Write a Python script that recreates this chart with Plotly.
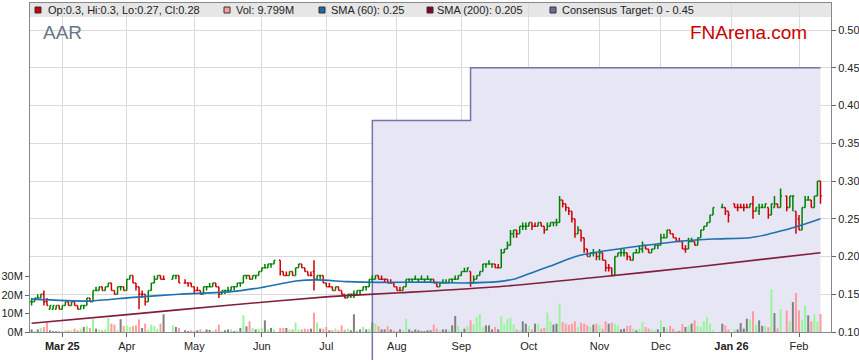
import numpy as np
import pandas as pd
import plotly.graph_objects as go

# ---------------- data ----------------
START = "2025-02-17"
END = "2026-02-11"
holidays = ["2025-04-18", "2025-04-21", "2025-04-25", "2025-06-09",
            "2025-12-25", "2025-12-26", "2026-01-01", "2026-01-26"]
dates = [d for d in pd.bdate_range(START, END).strftime("%Y-%m-%d") if d not in holidays]

open_ = [
    0.140,0.140,0.145,0.145,0.150,0.140,0.130,0.130,0.130,0.135,
    0.130,0.135,0.140,0.135,0.140,0.135,0.130,0.135,0.135,0.145,
    0.140,0.155,0.155,0.160,0.155,0.160,0.165,0.155,0.150,0.160,
    0.160,0.155,0.170,0.175,0.165,0.160,0.150,0.150,0.140,0.155,
    0.165,0.170,0.175,0.170,0.170,0.175,0.175,0.165,0.165,0.165,
    0.160,0.155,0.155,0.150,0.160,0.160,0.160,0.165,0.160,0.150,
    0.155,0.155,0.155,0.160,0.160,0.165,0.165,0.175,0.175,0.170,
    0.175,0.175,0.180,0.185,0.185,0.190,0.190,0.195,0.180,0.175,
    0.175,0.180,0.175,0.185,0.190,0.185,0.180,0.175,0.180,0.170,
    0.175,0.175,0.165,0.160,0.160,0.155,0.160,0.155,0.150,0.145,
    0.150,0.150,0.150,0.155,0.155,0.160,0.160,0.170,0.170,0.175,
    0.170,0.170,0.170,0.165,0.165,0.160,0.155,0.155,0.160,0.170,
    0.170,0.170,0.170,0.170,0.170,0.170,0.170,0.170,0.165,0.160,
    0.165,0.165,0.165,0.170,0.170,0.170,0.175,0.180,0.180,0.180,
    0.165,0.170,0.175,0.180,0.190,0.190,0.190,0.190,0.185,0.185,
    0.205,0.210,0.215,0.230,0.235,0.230,0.240,0.240,0.240,0.245,
    0.240,0.240,0.245,0.240,0.235,0.240,0.245,0.245,0.245,0.275,
    0.270,0.265,0.260,0.250,0.230,0.235,0.225,0.210,0.200,0.205,
    0.205,0.200,0.205,0.195,0.185,0.185,0.175,0.200,0.205,0.205,
    0.205,0.200,0.195,0.205,0.205,0.210,0.215,0.210,0.205,0.210,
    0.215,0.215,0.225,0.225,0.235,0.230,0.225,0.220,0.220,0.210,
    0.210,0.220,0.220,0.215,0.225,0.235,0.240,0.245,0.255,0.265,
    0.265,0.260,0.270,0.265,0.265,0.265,0.265,0.265,0.270,0.260,
    0.260,0.265,0.265,0.265,0.255,0.265,0.270,0.265,0.280,0.265,
    0.280,0.260,0.250,0.235,0.265,0.275,0.275,0.265,0.280,0.300,
]
high = [
    0.145,0.145,0.150,0.150,0.155,0.145,0.135,0.135,0.135,0.135,
    0.135,0.140,0.140,0.140,0.140,0.135,0.135,0.135,0.145,0.145,
    0.155,0.160,0.160,0.160,0.160,0.165,0.165,0.155,0.160,0.160,
    0.160,0.170,0.175,0.175,0.165,0.160,0.155,0.150,0.155,0.165,
    0.175,0.175,0.175,0.175,0.175,0.175,0.175,0.170,0.165,0.165,
    0.160,0.160,0.155,0.160,0.160,0.165,0.165,0.165,0.160,0.155,
    0.155,0.160,0.160,0.160,0.165,0.165,0.175,0.175,0.175,0.175,
    0.175,0.180,0.185,0.190,0.190,0.190,0.195,0.195,0.180,0.180,
    0.180,0.180,0.185,0.190,0.190,0.185,0.180,0.180,0.195,0.175,
    0.175,0.175,0.165,0.165,0.160,0.160,0.160,0.155,0.150,0.150,
    0.150,0.155,0.155,0.155,0.160,0.160,0.170,0.175,0.175,0.175,
    0.175,0.170,0.170,0.170,0.165,0.160,0.160,0.160,0.170,0.170,
    0.170,0.175,0.170,0.175,0.170,0.175,0.170,0.170,0.165,0.165,
    0.170,0.170,0.170,0.170,0.175,0.175,0.180,0.185,0.185,0.180,
    0.175,0.175,0.180,0.190,0.190,0.195,0.190,0.190,0.190,0.210,
    0.210,0.220,0.235,0.235,0.235,0.240,0.245,0.245,0.245,0.245,
    0.245,0.245,0.245,0.240,0.245,0.245,0.245,0.250,0.280,0.275,
    0.270,0.265,0.260,0.250,0.240,0.235,0.225,0.210,0.205,0.210,
    0.205,0.210,0.205,0.195,0.190,0.185,0.200,0.205,0.210,0.210,
    0.205,0.200,0.205,0.210,0.215,0.220,0.215,0.210,0.210,0.215,
    0.215,0.230,0.230,0.235,0.235,0.230,0.225,0.225,0.220,0.215,
    0.225,0.225,0.220,0.225,0.235,0.240,0.245,0.255,0.265,0.270,
    0.265,0.260,0.270,0.270,0.270,0.270,0.270,0.270,0.280,0.265,
    0.270,0.270,0.270,0.265,0.270,0.280,0.270,0.290,0.280,0.280,
    0.280,0.260,0.255,0.265,0.280,0.280,0.275,0.280,0.300,0.300,
]
low = [
    0.135,0.140,0.145,0.145,0.135,0.135,0.130,0.130,0.130,0.130,
    0.130,0.135,0.135,0.135,0.135,0.130,0.130,0.130,0.135,0.140,
    0.140,0.155,0.155,0.155,0.155,0.160,0.155,0.150,0.150,0.155,
    0.155,0.155,0.170,0.165,0.155,0.130,0.145,0.135,0.140,0.155,
    0.165,0.170,0.170,0.170,0.170,0.170,0.165,0.165,0.160,0.160,
    0.150,0.155,0.150,0.150,0.155,0.160,0.160,0.160,0.145,0.150,
    0.150,0.155,0.155,0.155,0.160,0.160,0.165,0.170,0.170,0.170,
    0.170,0.175,0.180,0.185,0.185,0.185,0.190,0.175,0.175,0.175,
    0.175,0.175,0.175,0.185,0.185,0.180,0.175,0.175,0.155,0.170,
    0.170,0.165,0.160,0.160,0.155,0.155,0.155,0.150,0.145,0.145,
    0.145,0.145,0.150,0.150,0.155,0.155,0.160,0.165,0.170,0.170,
    0.170,0.165,0.165,0.165,0.160,0.155,0.155,0.155,0.160,0.165,
    0.165,0.170,0.165,0.170,0.165,0.170,0.165,0.165,0.160,0.160,
    0.165,0.165,0.165,0.165,0.170,0.170,0.175,0.180,0.180,0.160,
    0.165,0.170,0.175,0.180,0.185,0.190,0.185,0.185,0.185,0.185,
    0.205,0.210,0.215,0.225,0.225,0.230,0.235,0.235,0.240,0.235,
    0.240,0.240,0.240,0.230,0.235,0.240,0.240,0.240,0.245,0.265,
    0.260,0.255,0.245,0.225,0.230,0.220,0.205,0.200,0.200,0.200,
    0.195,0.195,0.195,0.180,0.180,0.175,0.175,0.200,0.200,0.200,
    0.195,0.195,0.195,0.205,0.205,0.205,0.210,0.205,0.205,0.210,
    0.210,0.215,0.225,0.225,0.230,0.225,0.220,0.220,0.210,0.205,
    0.210,0.220,0.215,0.215,0.225,0.235,0.240,0.245,0.255,0.265,
    0.255,0.245,0.265,0.260,0.265,0.260,0.265,0.265,0.250,0.260,
    0.255,0.265,0.265,0.250,0.255,0.265,0.265,0.265,0.260,0.265,
    0.260,0.230,0.235,0.235,0.265,0.275,0.265,0.265,0.280,0.270,
]
close = [
    0.140,0.145,0.145,0.150,0.140,0.135,0.135,0.135,0.135,0.130,
    0.135,0.140,0.135,0.140,0.135,0.130,0.135,0.135,0.145,0.140,
    0.155,0.155,0.160,0.155,0.160,0.165,0.155,0.150,0.160,0.160,
    0.155,0.170,0.175,0.165,0.160,0.150,0.150,0.140,0.155,0.165,
    0.170,0.175,0.170,0.170,0.175,0.175,0.165,0.165,0.165,0.160,
    0.155,0.155,0.150,0.160,0.160,0.160,0.165,0.160,0.150,0.155,
    0.155,0.155,0.160,0.160,0.165,0.165,0.175,0.175,0.170,0.175,
    0.175,0.180,0.185,0.185,0.190,0.190,0.195,0.180,0.175,0.175,
    0.180,0.175,0.185,0.190,0.185,0.180,0.175,0.175,0.170,0.175,
    0.175,0.165,0.160,0.160,0.155,0.160,0.155,0.150,0.145,0.150,
    0.150,0.150,0.155,0.155,0.160,0.160,0.170,0.170,0.175,0.170,
    0.170,0.170,0.165,0.165,0.160,0.155,0.155,0.160,0.170,0.170,
    0.170,0.170,0.170,0.170,0.170,0.170,0.170,0.165,0.160,0.165,
    0.165,0.165,0.170,0.170,0.170,0.175,0.180,0.180,0.185,0.165,
    0.170,0.175,0.180,0.190,0.190,0.190,0.190,0.185,0.185,0.205,
    0.210,0.215,0.230,0.235,0.230,0.240,0.240,0.240,0.245,0.240,
    0.240,0.245,0.240,0.235,0.240,0.245,0.245,0.245,0.275,0.270,
    0.265,0.260,0.250,0.230,0.235,0.225,0.210,0.200,0.205,0.205,
    0.200,0.205,0.195,0.185,0.185,0.175,0.200,0.205,0.205,0.205,
    0.200,0.195,0.205,0.205,0.210,0.215,0.210,0.205,0.210,0.215,
    0.215,0.225,0.225,0.235,0.230,0.225,0.220,0.220,0.210,0.210,
    0.220,0.220,0.215,0.225,0.235,0.240,0.245,0.255,0.265,0.265,
    0.260,0.255,0.265,0.265,0.265,0.265,0.265,0.270,0.260,0.265,
    0.265,0.265,0.270,0.255,0.270,0.270,0.265,0.280,0.265,0.280,
    0.280,0.240,0.235,0.265,0.275,0.275,0.265,0.280,0.300,0.280,
]
volume_m = [
    1.4,0.5,1.4,2.2,2.7,5.1,0.9,0.5,0.5,0.5,
    0.5,0.9,0.9,0.9,1.8,0.9,1.8,2.7,3.2,2.2,
    6.9,1.8,1.4,0.9,1.4,7.6,4.5,4.0,0.9,6.9,
    3.2,3.6,2.7,3.2,3.6,6.9,2.2,4.5,1.4,4.0,
    3.2,1.8,4.5,9.6,3.6,2.7,2.2,0.9,0.5,0.9,
    0.5,0.9,1.4,0.5,1.4,1.1,0.5,1.4,4.0,0.5,
    0.9,1.4,1.4,0.5,0.9,2.2,9.0,3.1,5.8,2.2,
    1.4,1.8,2.2,6.3,1.4,2.2,1.4,2.2,2.2,2.2,
    1.4,1.4,5.1,1.5,1.4,1.8,1.5,1.8,10.5,5.1,
    1.8,1.8,2.7,0.9,1.0,1.8,0.9,3.6,1.3,1.8,
    0.9,9.6,0.9,1.4,2.7,1.4,1.8,5.1,4.5,3.2,
    1.4,1.4,3.2,1.4,0.9,0.5,1.4,0.9,7.2,1.4,
    0.5,1.4,0.9,0.5,0.5,0.9,0.9,4.0,1.8,0.9,
    1.4,1.4,0.9,3.6,8.7,3.2,0.9,1.8,3.2,6.3,
    4.0,8.1,9.6,2.7,3.6,3.6,1.4,2.7,1.4,8.5,
    4.0,7.2,7.7,4.0,1.4,0.9,5.8,4.5,3.2,1.4,
    4.5,4.5,1.8,2.2,10.5,5.8,4.0,4.5,15.3,5.4,
    4.5,4.0,4.5,5.8,2.7,5.1,4.5,3.6,2.7,4.0,
    4.5,3.6,1.8,5.8,4.5,5.1,4.5,3.3,1.4,1.8,
    3.3,3.6,1.8,0.9,1.8,5.2,2.7,1.8,1.3,0.9,
    1.4,6.3,2.7,1.8,3.3,1.8,0.4,0.4,4.3,2.7,
    3.6,4.5,6.3,3.3,2.7,5.8,8.1,4.5,1.0,4.5,
    3.6,1.4,1.4,1.4,4.9,1.8,7.2,6.7,11.2,4.0,
    6.3,3.3,3.1,2.5,23.1,10.3,2.0,12.3,11.7,5.8,
    16.2,21.1,11.7,6.7,14.4,9.0,5.8,9.6,5.8,9.799,
]

sma60_dates = ["2025-02-17","2025-03-14","2025-04-02","2025-04-24","2025-05-19","2025-06-02",
               "2025-06-17","2025-06-26","2025-07-10","2025-07-24","2025-08-15","2025-09-02",
               "2025-09-17","2025-09-25","2025-10-02","2025-10-10","2025-10-17","2025-10-24",
               "2025-11-03","2025-11-25","2025-12-10","2025-12-24","2026-01-09","2026-01-16",
               "2026-01-23","2026-02-02","2026-02-11"]
sma60_vals = [0.1435,0.141,0.1455,0.150,0.1535,0.159,
              0.1675,0.169,0.1667,0.1658,0.166,0.165,
              0.1667,0.171,0.1786,0.1874,0.1954,0.202,
              0.2064,0.2152,0.2205,0.2232,0.2249,0.2285,
              0.2337,0.2404,0.25]

sma200_dates = ["2025-02-17","2025-04-02","2025-05-19","2025-07-02","2025-08-04",
                "2025-09-17","2025-11-03","2025-12-17","2026-02-11"]
sma200_vals = [0.1115,0.1234,0.1358,0.1468,0.152,0.160,0.1728,0.1865,0.205]

target_dates = ["2025-02-17", "2025-07-22", "2025-09-04", "2026-02-11"]
target_vals = [0.0, 0.38, 0.45, 0.45]

month_labels = ["<b>Mar 25</b>", "Apr", "May", "Jun", "Jul", "Aug", "Sep", "Oct",
                "Nov", "Dec", "<b>Jan 26</b>", "Feb"]
price_ticks = [0.10, 0.15, 0.20, 0.25, 0.30, 0.35, 0.40, 0.45, 0.50]
vol_ticks = [0, 10, 20, 30]

assert len(dates) == len(open_) == len(high) == len(low) == len(close) == len(volume_m)

# ---------------- helpers ----------------
START64 = np.datetime64(START)

def xpos(ds):
    return np.busday_count(START64, np.array(ds, dtype="datetime64[D]"))

x = xpos(dates)
month_first = pd.date_range("2025-03-01", "2026-02-01", freq="MS").values.astype("datetime64[D]")
tick_x = np.busday_count(START64, np.busday_offset(month_first, 0, roll="forward"))

GREEN_BAR, PINK_BAR, GRAY_BAR = "#99f599", "#ff9c9c", "#808080"
vol_colors = []
for k in range(len(close)):
    if k == 0 or close[k] == close[k - 1]:
        vol_colors.append(GRAY_BAR)
    elif close[k] > close[k - 1]:
        vol_colors.append(GREEN_BAR)
    else:
        vol_colors.append(PINK_BAR)

PRICE_RANGE = [0.10, 0.5358]
VOL_RANGE = [0, 178.1]
X_RANGE = [-0.521, 260.42]

FONT = "Liberation Sans, Arial, sans-serif"
TARGET_LINE = "#7474a8"
TARGET_FILL = "#e6e6f5"
SMA60_C = "#2070b0"
SMA200_C = "#801e3c"

fig = go.Figure()

# consensus target (base price axis, drawn first)
fig.add_trace(go.Scatter(
    x=xpos(target_dates), y=target_vals, mode="lines",
    line=dict(shape="hv", color=TARGET_LINE, width=1.5),
    fill="tozeroy", fillcolor=TARGET_FILL, yaxis="y", hoverinfo="skip"))

# volume bars
fig.add_trace(go.Bar(
    x=x, y=volume_m, marker=dict(color=vol_colors, line=dict(width=0)),
    width=0.65, yaxis="y2", hoverinfo="skip"))

# moving averages
fig.add_trace(go.Scatter(
    x=xpos(sma200_dates), y=sma200_vals, mode="lines",
    line=dict(color=SMA200_C, width=1.6, shape="spline", smoothing=0.6), yaxis="y3"))
fig.add_trace(go.Scatter(
    x=xpos(sma60_dates), y=sma60_vals, mode="lines",
    line=dict(color=SMA60_C, width=1.6, shape="spline", smoothing=0.6), yaxis="y3"))

# OHLC bars
fig.add_trace(go.Ohlc(
    x=x, open=open_, high=high, low=low, close=close,
    increasing=dict(line=dict(color="#008000", width=1.5)),
    decreasing=dict(line=dict(color="#d00000", width=1.5)),
    tickwidth=0.45, yaxis="y3", hoverinfo="skip"))

# ---------------- layout ----------------
PLOT_L, PLOT_R, PLOT_T, PLOT_B = 30, 831, 3, 332
def px_x(p):
    return (p - PLOT_L) / (PLOT_R - PLOT_L)
def px_y(p):
    return (PLOT_B - p) / (PLOT_B - PLOT_T)

shapes = [
    dict(type="rect", xref="paper", yref="paper", x0=0, x1=1, y0=px_y(17), y1=1,
         fillcolor="#e6e6e6", line=dict(width=0), layer="below"),
    dict(type="line", xref="x", yref="paper", x0=xpos([target_dates[1]])[0],
         x1=xpos([target_dates[1]])[0], y0=0, y1=px_y(360),
         line=dict(color=TARGET_LINE, width=1.5)),
]

legend_items = [
    ("Op:%g, Hi:%g, Lo:%g, Cl:%g" % (open_[-1], high[-1], low[-1], close[-1]), "#cc0000", 35, 47),
    ("Vol: %.3fM" % volume_m[-1], "#ff9c9c", 224, 235),
    ("SMA (60): %g" % sma60_vals[-1], "#1f68a8", 319, 330),
    ("SMA (200): %g" % sma200_vals[-1], "#800030", 427, 436),
    ("Consensus Target: %g - %g" % (min(target_vals), max(target_vals)), "#6c6c9c", 550, 561),
]
annotations = []
for text, col, sqx, tx in legend_items:
    shapes.append(dict(type="rect", xref="paper", yref="paper",
                       x0=px_x(sqx), x1=px_x(sqx + 6), y0=px_y(13), y1=px_y(7),
                       fillcolor=col, line=dict(color="#333333", width=1), layer="above"))
    annotations.append(dict(xref="paper", yref="paper", x=px_x(tx - 1), y=px_y(10),
                            text=text, showarrow=False, xanchor="left", yanchor="middle",
                            font=dict(family=FONT, size=11, color="#222222")))

annotations.append(dict(xref="paper", yref="paper", x=px_x(41), y=px_y(33), text="AAR",
                        showarrow=False, xanchor="left", yanchor="middle",
                        font=dict(family=FONT, size=19, color="#667788")))
annotations.append(dict(xref="paper", yref="paper", x=px_x(809), y=px_y(33), text="FNArena.com",
                        showarrow=False, xanchor="right", yanchor="middle",
                        font=dict(family=FONT, size=19, color="#cc0000")))

fig.update_layout(
    width=859, height=363,
    margin=dict(l=PLOT_L, r=859 - PLOT_R, t=PLOT_T, b=363 - PLOT_B, autoexpand=False),
    paper_bgcolor="white", plot_bgcolor="white", showlegend=False,
    font=dict(family=FONT, size=11, color="#222222"),
    xaxis=dict(range=X_RANGE, tickmode="array", tickvals=tick_x, ticktext=month_labels,
               showgrid=True, gridcolor="#dadada", gridwidth=1, ticks="outside", ticklen=4,
               tickcolor="#666666", showline=True, linecolor="#888888", mirror=True,
               zeroline=False, rangeslider=dict(visible=False),
               tickfont=dict(family=FONT, size=11, color="#222222")),
    yaxis=dict(range=PRICE_RANGE, side="right", tickmode="array", tickvals=price_ticks,
               ticktext=["%.2f" % v for v in price_ticks], showgrid=True, gridcolor="#dadada",
               ticks="outside", ticklen=4, tickcolor="#666666", showline=True,
               linecolor="#888888", zeroline=False,
               tickfont=dict(family=FONT, size=11, color="#222222")),
    yaxis2=dict(range=VOL_RANGE, overlaying="y", side="left", tickmode="array",
                tickvals=vol_ticks, ticktext=["%dM" % v for v in vol_ticks], showgrid=False,
                ticks="outside", ticklen=4, tickcolor="#666666", showline=True,
                linecolor="#888888", zeroline=False,
                tickfont=dict(family=FONT, size=11, color="#222222")),
    yaxis3=dict(range=PRICE_RANGE, overlaying="y", visible=False),
    shapes=shapes, annotations=annotations,
)

# remove the default 8px page margin so the figure sits at the window's top-left corner
fig.write_html("out.html", config={"displayModeBar": False, "staticPlot": True},
               post_script="document.body.style.margin='0px';")
